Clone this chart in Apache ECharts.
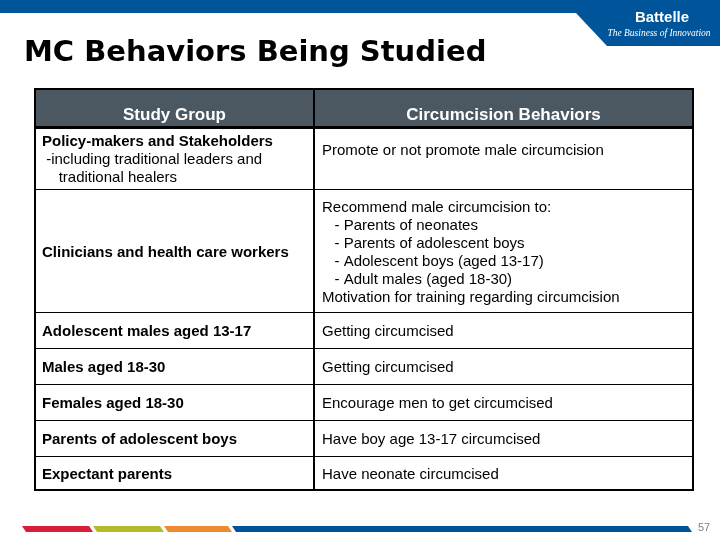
<!DOCTYPE html>
<html><head><meta charset="utf-8">
<script src="https://cdn.jsdelivr.net/npm/echarts@6/dist/echarts.min.js"></script>
<style>html,body{margin:0;padding:0;background:#fff}#c{width:720px;height:540px}</style>
</head><body><div id="c"></div>
<script>
// ---- data ----
const titleText = 'MC Behaviors Being Studied';
const headers = ['Study Group', 'Circumcision Behaviors'];
const groupNames = [
  'Policy-makers and Stakeholders',
  'Clinicians and health care workers',
  'Adolescent males aged 13-17',
  'Males aged 18-30',
  'Females aged 18-30',
  'Parents of adolescent boys',
  'Expectant parents'
];
const groupNotes = [
  [' -including traditional leaders and', '    traditional healers'],
  [], [], [], [], [], []
];
const behaviors = [
  ['Promote or not promote male circumcision', ''],
  ['Recommend male circumcision to:', '   - Parents of neonates', '   - Parents of adolescent boys',
   '   - Adolescent boys (aged 13-17)', '   - Adult males (aged 18-30)', 'Motivation for training regarding circumcision'],
  ['Getting circumcised'],
  ['Getting circumcised'],
  ['Encourage men to get circumcised'],
  ['Have boy age 13-17 circumcised'],
  ['Have neonate circumcised']
];
const logoName = 'Battelle';
const logoTagline = 'The Business of Innovation';
const pageNumber = '57';

// ---- layout (table units = pixels inside the grid) ----
const X_MAX = 658, Y_MAX = 401, COL_SPLIT = 279;
const ROW_EDGES = [0, 38.5, 100.5, 223.5, 259.5, 295.5, 331.5, 367.5, 401];
const LINE_H = 18;
const TEXT_DY = 1.8;
const FONT = '"Liberation Sans", Arial, sans-serif';
const HEADER_FILL = '#4b5862';
const BLUE = '#00559a';

const rowData = [[0, 0]].concat(groupNames.map((_, i) => [0, i + 1]));

function cellItem(params, api) {
  const r = api.value(1);
  const tl = api.coord([0, ROW_EDGES[r]]);
  const br = api.coord([X_MAX, ROW_EDGES[r + 1]]);
  const xL = api.coord([7, 0])[0];
  const xR = api.coord([COL_SPLIT + 8, 0])[0];
  const xSplit = api.coord([COL_SPLIT, 0])[0];
  const children = [];
  if (r === 0) {
    children.push({type: 'rect', shape: {x: tl[0], y: tl[1], width: br[0] - tl[0], height: br[1] - tl[1]},
      style: {fill: HEADER_FILL}});
    const ty = tl[1] + 26;
    children.push({type: 'text', style: {x: (tl[0] + xSplit) / 2, y: ty, text: headers[0], fill: '#fff',
      font: 'bold 17px ' + FONT, align: 'center', verticalAlign: 'middle'}});
    children.push({type: 'text', style: {x: (xSplit + br[0]) / 2, y: ty, text: headers[1], fill: '#fff',
      font: 'bold 17px ' + FONT, align: 'center', verticalAlign: 'middle'}});
  } else {
    const cy = (tl[1] + br[1]) / 2 + TEXT_DY;
    const left = [groupNames[r - 1]].concat(groupNotes[r - 1]);
    left.forEach((t, k) => {
      children.push({type: 'text', style: {x: xL, y: cy + (k - (left.length - 1) / 2) * LINE_H, text: t,
        fill: '#000', font: (k === 0 ? 'bold ' : '') + '15px ' + FONT, align: 'left', verticalAlign: 'middle'}});
    });
    const right = behaviors[r - 1];
    right.forEach((t, k) => {
      children.push({type: 'text', style: {x: xR, y: cy + (k - (right.length - 1) / 2) * LINE_H, text: t,
        fill: '#000', font: '15px ' + FONT, align: 'left', verticalAlign: 'middle'}});
    });
  }
  return {type: 'group', children: children};
}

function frameItem(params, api) {
  const tl = api.coord([0, 0]);
  const br = api.coord([X_MAX, Y_MAX]);
  const xs = api.coord([COL_SPLIT, 0])[0];
  const ch = [];
  for (let i = 2; i < ROW_EDGES.length - 1; i++) {
    const y = api.coord([0, ROW_EDGES[i]])[1];
    ch.push({type: 'line', shape: {x1: tl[0], y1: y, x2: br[0], y2: y}, style: {stroke: '#000', lineWidth: 1}});
  }
  const yh = api.coord([0, ROW_EDGES[1]])[1];
  ch.push({type: 'line', shape: {x1: tl[0], y1: yh, x2: br[0], y2: yh}, style: {stroke: '#000', lineWidth: 3}});
  ch.push({type: 'line', shape: {x1: xs, y1: tl[1], x2: xs, y2: br[1]}, style: {stroke: '#000', lineWidth: 2}});
  ch.push({type: 'rect', shape: {x: tl[0], y: tl[1], width: br[0] - tl[0], height: br[1] - tl[1]},
    style: {fill: null, stroke: '#000', lineWidth: 2}});
  return {type: 'group', children: ch};
}

const chart = echarts.init(document.getElementById('c'), null, {renderer: 'canvas'});
const bars = [
  {x0: 22, x1: 89, c: '#d71f3b'},
  {x0: 93, x1: 160, c: '#b3bc2c'},
  {x0: 164, x1: 228, c: '#ee8a2f'},
  {x0: 232, x1: 688, c: BLUE}
];
chart.setOption({
  animation: false,
  backgroundColor: '#fff',
  grid: {left: 35, top: 89, right: 27, bottom: 50, containLabel: false},
  xAxis: {type: 'value', min: 0, max: X_MAX, show: false},
  yAxis: {type: 'value', min: 0, max: Y_MAX, inverse: true, show: false},
  series: [
    {type: 'custom', coordinateSystem: 'cartesian2d', renderItem: cellItem, data: rowData, clip: false, z: 2,
     encode: {x: 0, y: 1}, silent: true},
    {type: 'custom', coordinateSystem: 'cartesian2d', renderItem: frameItem, data: [[0, 0]], clip: false, z: 3,
     encode: {x: 0, y: 1}, silent: true}
  ],
  graphic: [
    {type: 'rect', shape: {x: 0, y: 0, width: 720, height: 13}, style: {fill: BLUE}, silent: true},
    {type: 'polygon', shape: {points: [[576, 13], [720, 13], [720, 46], [607, 46]]}, style: {fill: BLUE}, silent: true},
    {type: 'text', style: {x: 662, y: 18, text: logoName, fill: '#fff', font: 'bold 15px ' + FONT,
      align: 'center', verticalAlign: 'middle'}, silent: true},
    {type: 'text', style: {x: 659, y: 33, text: logoTagline, fill: '#fff',
      font: 'italic 9.5px "Liberation Serif", "Times New Roman", serif', align: 'center', verticalAlign: 'middle'}, silent: true},
    {type: 'text', style: {x: 24, y: 53, text: titleText, fill: '#000', font: 'bold 29px "DejaVu Sans", sans-serif',
      align: 'left', verticalAlign: 'middle'}, silent: true},
    ...bars.map(b => ({type: 'polygon', shape: {points: [[b.x0, 526], [b.x1, 526], [b.x1 + 4, 532], [b.x0 + 4, 532]]},
      style: {fill: b.c}, silent: true})),
    {type: 'text', style: {x: 704, y: 528, text: pageNumber, fill: '#808080', font: '11px ' + FONT,
      align: 'center', verticalAlign: 'middle'}, silent: true}
  ]
});
</script>
</body></html>
